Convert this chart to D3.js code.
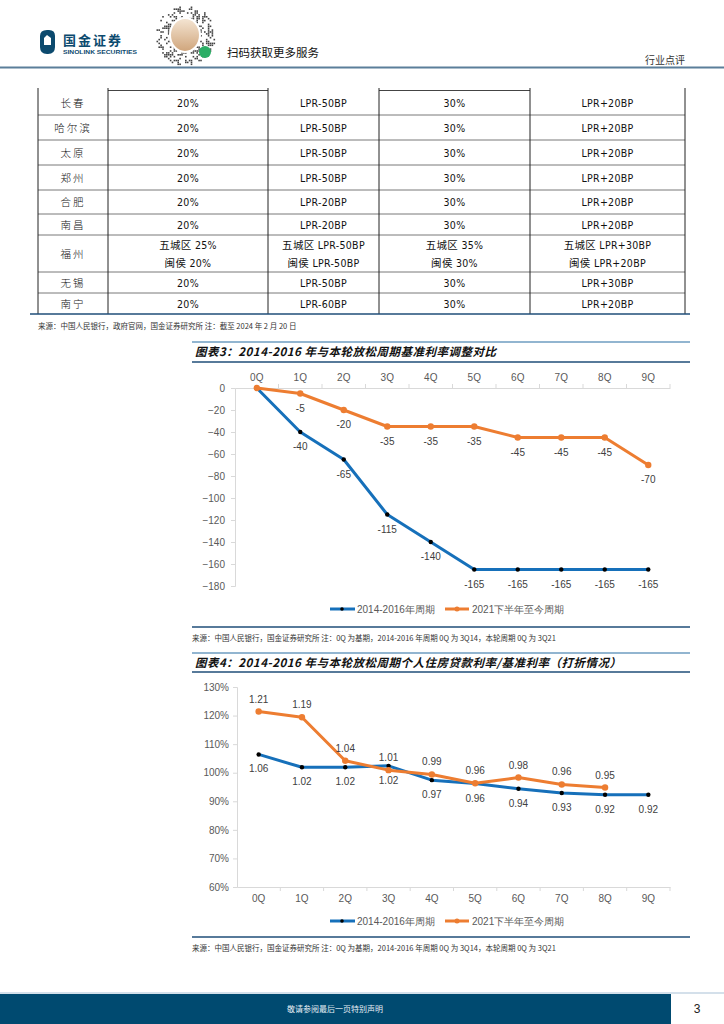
<!DOCTYPE html>
<html><head><meta charset="utf-8">
<script src="https://cdn.jsdelivr.net/npm/d3@7/dist/d3.min.js"></script>
<style>
html,body{margin:0;padding:0;background:#fff;}
svg{display:block;}
text{font-family:"Liberation Sans",Arial,sans-serif;}
.cjk{font-family:"Noto Sans CJK SC",sans-serif;}
</style></head>
<body>
<svg id="page" width="724" height="1024"></svg>
<script>
// ---------- DATA ----------
const tableCities = ["长春","哈尔滨","太原","郑州","合肥","南昌","福州","无锡","南宁"];
const tableCol1 = [["20%"],["20%"],["20%"],["20%"],["20%"],["20%"],["五城区 25%","闽侯 20%"],["20%"],["20%"]];
const tableCol2 = [["LPR-50BP"],["LPR-50BP"],["LPR-50BP"],["LPR-50BP"],["LPR-20BP"],["LPR-20BP"],["五城区 LPR-50BP","闽侯 LPR-50BP"],["LPR-50BP"],["LPR-60BP"]];
const tableCol3 = [["30%"],["30%"],["30%"],["30%"],["30%"],["30%"],["五城区 35%","闽侯 30%"],["30%"],["30%"]];
const tableCol4 = [["LPR+20BP"],["LPR+20BP"],["LPR+20BP"],["LPR+20BP"],["LPR+20BP"],["LPR+20BP"],["五城区 LPR+30BP","闽侯 LPR+20BP"],["LPR+30BP"],["LPR+20BP"]];

const quarters = ["0Q","1Q","2Q","3Q","4Q","5Q","6Q","7Q","8Q","9Q"];
const seriesNames = ["2014-2016年周期","2021下半年至今周期"];
const c3Blue = [0,-40,-65,-115,-140,-165,-165,-165,-165,-165];
const c3Orange = [0,-5,-20,-35,-35,-35,-45,-45,-45,-70];
const c3Ticks = [0,-20,-40,-60,-80,-100,-120,-140,-160,-180];
const c4Blue = [1.064,1.019,1.019,1.024,0.974,0.962,0.944,0.929,0.923,0.923];
const c4Orange = [1.214,1.194,1.042,1.009,0.994,0.963,0.983,0.959,0.948];
const c4Ticks = [0.6,0.7,0.8,0.9,1.0,1.1,1.2,1.3];

const BLUE="#1670BA", ORANGE="#ED7D31", TXT="#404040";
const svg = d3.select("#page");

// ---------- HEADER ----------
(function header(){
  const g = svg.append("g");
  g.append("path").attr("d","M40,36 Q40,30 47,30 L49,30 Q55,30 55,36 L55,47 Q55,54 48,54 L47,54 Q40,54 40,47 Z").attr("fill","#0C4A6E");
  g.append("path").attr("d","M44,38 L47,35 L51,38 L51,45 L44,45 Z").attr("fill","#fff");
  g.append("text").attr("class","cjk").attr("x",63).attr("y",45).attr("font-size",13).attr("font-weight",700).attr("fill","#0C4A6E").attr("letter-spacing",2).text("国金证券");
  g.append("text").attr("x",63).attr("y",54).attr("font-size",5.6).attr("font-weight",700).attr("fill","#0C4A6E").attr("textLength",74).attr("lengthAdjust","spacingAndGlyphs").text("SINOLINK SECURITIES");
  // decorative QR-like blob (deterministic hash pattern)
  const cx=185, cy=35, R=30, qr=g.append("g");
  const hash=(i,j)=>{let h=Math.imul(i+101,0x27d4eb2d)^Math.imul(j+211,0x165667b1); h^=h>>>15; h=Math.imul(h,0x85ebca6b); h^=h>>>13; return h>>>0;};
  for(let i=-16;i<=16;i++) for(let j=-16;j<=16;j++){
    const dx=i*1.9, dy=j*1.9; if(dx*dx+dy*dy>R*R) continue;
    if(hash(i,j)%100<38) qr.append("rect").attr("x",cx+dx).attr("y",cy+dy).attr("width",1.6).attr("height",1.6).attr("fill","#444");
  }
  const grad = svg.append("defs").append("linearGradient").attr("id","qrg").attr("x1",0).attr("y1",0).attr("x2",0).attr("y2",1);
  grad.append("stop").attr("offset","0%").attr("stop-color","#f5e6d4");
  grad.append("stop").attr("offset","100%").attr("stop-color","#cfa47a");
  g.append("ellipse").attr("cx",cx).attr("cy",cy).attr("rx",15).attr("ry",17).attr("fill","url(#qrg)").attr("stroke","#fff").attr("stroke-width",2);
  g.append("circle").attr("cx",205).attr("cy",52).attr("r",6).attr("fill","#2BAE66");
  g.append("text").attr("class","cjk").attr("x",227).attr("y",57).attr("font-size",11.5).attr("fill","#111").text("扫码获取更多服务");
  g.append("text").attr("class","cjk").attr("x",645).attr("y",64).attr("font-size",10).attr("fill","#333").text("行业点评");
  g.append("rect").attr("x",0).attr("y",66.5).attr("width",724).attr("height",2).attr("fill","#5B7E9A");
})();

// ---------- TABLE ----------
(function table(){
  const g = svg.append("g");
  const colX = [38,108,268,379,530,685];
  const rowY = [90,115,140,165,190,214,235,272,293,314];
  const cols = [tableCities.map(d=>[d]), tableCol1, tableCol2, tableCol3, tableCol4];
  rowY.slice(1,-1).forEach(y=>g.append("line").attr("x1",colX[0]).attr("x2",colX[5]).attr("y1",y).attr("y2",y).attr("stroke","#555").attr("stroke-width",0.8));
  [[108,268],[379,530]].forEach(([a,b])=>g.append("line").attr("x1",a).attr("x2",b).attr("y1",90.5).attr("y2",90.5).attr("stroke","#444").attr("stroke-width",1.2));
  colX.forEach(x=>g.append("line").attr("x1",x).attr("x2",x).attr("y1",88).attr("y2",rowY[9]).attr("stroke","#222").attr("stroke-width",1));
  g.append("line").attr("x1",30).attr("x2",690).attr("y1",314).attr("y2",314).attr("stroke","#1F4E79").attr("stroke-width",1.3);
  cols.forEach((col,ci)=>{
    const cxm=(colX[ci]+colX[ci+1])/2;
    col.forEach((lines,ri)=>{
      const ym=(rowY[ri]+rowY[ri+1])/2;
      lines.forEach((t,li)=>{
        const y= ym + (li-(lines.length-1)/2)*18 + 4;
        g.append("text").attr("x",cxm).attr("y",y).attr("text-anchor","middle")
          .attr("font-size",10.5).attr("fill","#111").attr("letter-spacing", ci===0?2:0.3)
          .style("font-family", ci===0?"'Noto Sans CJK SC'":"'DejaVu Sans Condensed','Noto Sans CJK SC'")
          .style("font-weight", ci===0?300:400)
          .text(t);
      });
    });
  });
  g.append("text").attr("class","cjk").attr("x",38).attr("y",329).attr("font-size",7.5).attr("fill","#333").text("来源：中国人民银行，政府官网，国金证券研究所  注：截至 2024 年 2 月 20 日");
})();

// ---------- helpers ----------
function titleBar(y1,y2,title){
  svg.append("line").attr("x1",192).attr("x2",690).attr("y1",y1).attr("y2",y1).attr("stroke","#6E9CC0").attr("stroke-width",1.3);
  svg.append("line").attr("x1",192).attr("x2",690).attr("y1",y2).attr("y2",y2).attr("stroke","#1F4E79").attr("stroke-width",1.3);
  svg.append("text").attr("class","cjk").attr("x",195).attr("y",(y1+y2)/2+4).attr("font-size",11.5).attr("font-weight",700)
    .attr("font-style","italic").attr("letter-spacing",0.5).attr("fill","#111").text(title);
}
function legend(y){
  const g=svg.append("g");
  g.append("line").attr("x1",330).attr("x2",355).attr("y1",y).attr("y2",y).attr("stroke",BLUE).attr("stroke-width",3);
  g.append("circle").attr("cx",342).attr("cy",y).attr("r",1.8).attr("fill","#000");
  g.append("text").attr("x",357).attr("y",y+4).attr("font-size",10).attr("fill","#595959").text(seriesNames[0]);
  g.append("line").attr("x1",445).attr("x2",469).attr("y1",y).attr("y2",y).attr("stroke",ORANGE).attr("stroke-width",3);
  g.append("circle").attr("cx",457).attr("cy",y).attr("r",2.5).attr("fill",ORANGE);
  g.append("text").attr("x",472).attr("y",y+4).attr("font-size",10).attr("fill","#595959").text(seriesNames[1]);
}
function caption(y){
  svg.append("line").attr("x1",192).attr("x2",690).attr("y1",y).attr("y2",y).attr("stroke","#1F4E79").attr("stroke-width",1.3);
  svg.append("text").attr("class","cjk").attr("x",192).attr("y",y+14).attr("font-size",7.5).attr("fill","#333")
    .text("来源：中国人民银行，国金证券研究所  注：0Q 为基期，2014-2016 年周期 0Q 为 3Q14，本轮周期 0Q 为 3Q21");
}

// ---------- CHART 3 ----------
(function chart3(){
  titleBar(342,362,"图表3：2014-2016 年与本轮放松周期基准利率调整对比");
  const x=d3.scaleBand().domain(quarters).range([235,670]).padding(0);
  const y=d3.scaleLinear().domain([-180,0]).range([586,388]);
  const px=q=>x(q)+x.bandwidth()/2;
  const g=svg.append("g");
  const ya=g.append("g").attr("transform","translate(235,0)").call(d3.axisLeft(y).tickValues(c3Ticks).tickSize(4).tickPadding(6));
  ya.select(".domain").attr("stroke","#D9D9D9");
  ya.selectAll(".tick line").attr("stroke","#D9D9D9");
  ya.selectAll("text").attr("font-size",10).attr("fill","#595959").style("font-family","'Liberation Sans',Arial");
  const xa=g.append("g").attr("transform","translate(0,388)").call(d3.axisTop(x).tickSize(0).tickPadding(7));
  xa.select(".domain").attr("stroke","#D9D9D9");
  xa.selectAll("text").attr("font-size",10).attr("fill","#595959").style("font-family","'Liberation Sans',Arial");
  quarters.forEach(q=>g.append("line").attr("x1",x(q)+x.bandwidth()).attr("x2",x(q)+x.bandwidth()).attr("y1",388).attr("y2",384).attr("stroke","#D9D9D9"));
  const line=d3.line().x((d,i)=>px(quarters[i])).y(d=>y(d));
  g.append("path").datum(c3Blue).attr("d",line).attr("fill","none").attr("stroke",BLUE).attr("stroke-width",3).attr("stroke-linejoin","round");
  g.selectAll(".b3").data(c3Blue).enter().append("circle").attr("cx",(d,i)=>px(quarters[i])).attr("cy",d=>y(d)).attr("r",2.2).attr("fill","#000");
  g.append("path").datum(c3Orange).attr("d",line).attr("fill","none").attr("stroke",ORANGE).attr("stroke-width",3).attr("stroke-linejoin","round");
  g.selectAll(".o3").data(c3Orange).enter().append("circle").attr("cx",(d,i)=>px(quarters[i])).attr("cy",d=>y(d)).attr("r",3.2).attr("fill",ORANGE);
  c3Blue.forEach((d,i)=>{ if(i===0) return;
    g.append("text").attr("x",px(quarters[i])).attr("y",y(d)+18).attr("text-anchor","middle").attr("font-size",10).attr("fill",TXT).text(d); });
  c3Orange.forEach((d,i)=>{ if(i===0) return;
    g.append("text").attr("x",px(quarters[i])).attr("y",y(d)+18).attr("text-anchor","middle").attr("font-size",10).attr("fill",TXT).text(d); });
  legend(609);
  caption(627);
})();

// ---------- CHART 4 ----------
(function chart4(){
  titleBar(653,672,"图表4：2014-2016 年与本轮放松周期个人住房贷款利率/基准利率（打折情况）");
  const x=d3.scaleBand().domain(quarters).range([237,670]).padding(0);
  const y=d3.scaleLinear().domain([0.6,1.3]).range([887,687]);
  const px=q=>x(q)+x.bandwidth()/2;
  const g=svg.append("g");
  const ya=g.append("g").attr("transform","translate(237,0)").call(d3.axisLeft(y).tickValues(c4Ticks).tickSize(4).tickPadding(4).tickFormat(d3.format(".0%")));
  ya.select(".domain").attr("stroke","#D9D9D9");
  ya.selectAll(".tick line").attr("stroke","#D9D9D9");
  ya.selectAll("text").attr("font-size",10).attr("fill","#595959").style("font-family","'Liberation Sans',Arial");
  const xa=g.append("g").attr("transform","translate(0,887)").call(d3.axisBottom(x).tickSize(0).tickPadding(8));
  xa.select(".domain").attr("stroke","#D9D9D9");
  xa.selectAll("text").attr("font-size",10).attr("fill","#595959").style("font-family","'Liberation Sans',Arial");
  quarters.forEach(q=>g.append("line").attr("x1",x(q)+x.bandwidth()).attr("x2",x(q)+x.bandwidth()).attr("y1",887).attr("y2",891).attr("stroke","#D9D9D9"));
  const line=d3.line().x((d,i)=>px(quarters[i])).y(d=>y(d));
  g.append("path").datum(c4Blue).attr("d",line).attr("fill","none").attr("stroke",BLUE).attr("stroke-width",3).attr("stroke-linejoin","round");
  g.selectAll(".b4").data(c4Blue).enter().append("circle").attr("cx",(d,i)=>px(quarters[i])).attr("cy",d=>y(d)).attr("r",2.2).attr("fill","#000");
  g.append("path").datum(c4Orange).attr("d",line).attr("fill","none").attr("stroke",ORANGE).attr("stroke-width",3).attr("stroke-linejoin","round");
  g.selectAll(".o4").data(c4Orange).enter().append("circle").attr("cx",(d,i)=>px(quarters[i])).attr("cy",d=>y(d)).attr("r",3.2).attr("fill",ORANGE);
  c4Blue.forEach((d,i)=>g.append("text").attr("x",px(quarters[i])).attr("y",y(d)+18).attr("text-anchor","middle").attr("font-size",10).attr("fill",TXT).text(d.toFixed(2)));
  c4Orange.forEach((d,i)=>g.append("text").attr("x",px(quarters[i])).attr("y",y(d)-9).attr("text-anchor","middle").attr("font-size",10).attr("fill",TXT).text(d.toFixed(2)));
  legend(921);
  caption(937);
})();

// ---------- FOOTER ----------
svg.append("line").attr("x1",0).attr("x2",724).attr("y1",993).attr("y2",993).attr("stroke","#A9C1D6").attr("stroke-width",1);
svg.append("rect").attr("x",0).attr("y",994).attr("width",671).attr("height",30).attr("fill","#004A70");
svg.append("text").attr("class","cjk").attr("x",335).attr("y",1012).attr("text-anchor","middle").attr("font-size",8).attr("fill","#e6eef5").text("敬请参阅最后一页特别声明");
svg.append("text").attr("x",697).attr("y",1013).attr("text-anchor","middle").attr("font-size",12).attr("fill","#222").text("3");
</script>
</body></html>
